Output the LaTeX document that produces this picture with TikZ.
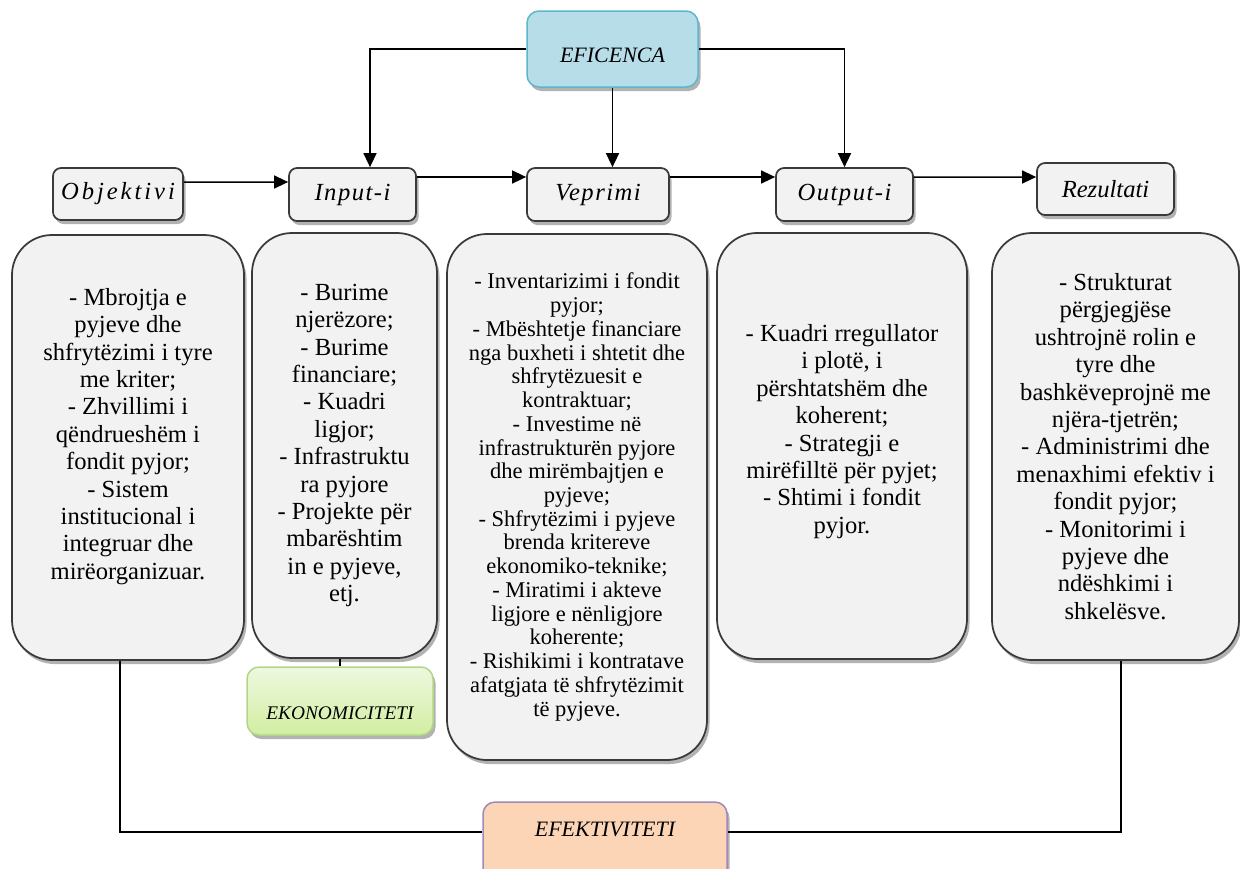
\documentclass[tikz,border=0pt]{standalone}
\usepackage{fontspec}
\setmainfont{Liberation Serif}
\usetikzlibrary{arrows.meta,shadows}
\definecolor{boxgray}{HTML}{F2F2F2}
\definecolor{boxline}{HTML}{3A3A3A}
\definecolor{eficfill}{HTML}{B7DEE8}
\definecolor{eficline}{HTML}{5DB6CE}
\definecolor{ekontop}{HTML}{EEF8DF}
\definecolor{ekonbot}{HTML}{D2EEA2}
\definecolor{ekonline}{HTML}{B3D58A}
\definecolor{efekfill}{HTML}{FBD5B5}
\definecolor{efekline}{HTML}{9E88BE}
\begin{document}
\begin{tikzpicture}[x=0.2mm, y=-0.2mm,
        shade/.style={drop shadow={shadow xshift=0.5mm, shadow yshift=-0.8mm, fill=black!55, opacity=0.55}},
        head/.style={draw=boxline, line width=0.35mm, fill=boxgray, rounded corners=1.6mm, inner sep=0pt, shade,
            font=\fontsize{14}{16}\selectfont\itshape\addfontfeature{LetterSpace=6}},
        textbox/.style={draw=boxline, line width=0.35mm, fill=boxgray, rounded corners=8mm, inner sep=0pt, shade,
            align=center, font=\fontsize{14}{15.6}\selectfont},
        key/.style={line width=0.3mm, rounded corners=2.4mm, inner sep=0pt, shade, font=\fontsize{12.5}{14}\selectfont\itshape},
        arr/.style={line width=0.3mm, -{Triangle[length=2.8mm, width=2.6mm]}},
        link/.style={line width=0.3mm},
    ]
    \useasboundingbox (0,0) rectangle (1240,868);

    \node[key, draw=eficline, fill=eficfill, minimum width=34.2mm, text height=10.2mm, text depth=5mm] (efic) at (612.5,49) {EFICENCA};

    \node[head, minimum width=26mm, minimum height=10.4mm] (obj) at (118,194) {\addfontfeature{LetterSpace=12}Objektivi};
    \node[head, minimum width=25.4mm, minimum height=10.6mm] (inp) at (352.5,194.5) {Input-i};
    \node[head, minimum width=28.4mm, minimum height=10.6mm] (vep) at (598,194.5) {Veprimi};
    \node[head, minimum width=27.4mm, minimum height=10.6mm] (out) at (844.5,194.5) {Output-i};
    \node[head, minimum width=27.4mm, minimum height=10.4mm, font=\fontsize{14}{16}\selectfont\itshape] (rez) at (1105.5,189) {Rezultati};

    \node[textbox, minimum width=46.4mm, minimum height=85mm] (tobj) at (128,447.5) {%
        - Mbrojtja e\\ pyjeve dhe\\ shfrytëzimi i tyre\\ me kriter;\\ - Zhvillimi i\\ qëndrueshëm i\\
        fondit pyjor;\\ - Sistem\\ institucional i\\ integruar dhe\\ mirëorganizuar.\\ ~};
    \node[textbox, minimum width=37mm, minimum height=85mm] (tinp) at (344.5,445.5) {%
        - Burime\\ njerëzore;\\ - Burime\\ financiare;\\ - Kuadri\\ ligjor;\\ - Infrastruktu\\ ra pyjore\\
        - Projekte për\\ mbarështim\\ in e pyjeve,\\ etj.};
    \node[textbox, minimum width=52mm, minimum height=105.2mm, font=\fontsize{12.8}{13.5}\selectfont] (tvep) at (577,497) {%
        - Inventarizimi i fondit\\ pyjor;\\ - Mbështetje financiare\\ nga buxheti i shtetit dhe\\ shfrytëzuesit e\\
        kontraktuar;\\ - Investime në\\ infrastrukturën pyjore\\ dhe mirëmbajtjen e\\ pyjeve;\\
        - Shfrytëzimi i pyjeve\\ brenda kritereve\\ ekonomiko-teknike;\\ - Miratimi i akteve\\
        ligjore e nënligjore\\ koherente;\\ - Rishikimi i kontratave\\ afatgjata të shfrytëzimit\\ të pyjeve.};
    \node[textbox, minimum width=50mm, minimum height=85.2mm] (tout) at (842,446) {%
        - Kuadri rregullator\\ i plotë, i\\ përshtatshëm dhe\\ koherent;\\ - Strategji e\\
        mirëfilltë për pyjet;\\ - Shtimi i fondit\\ pyjor.\\[4pt] ~};
    \node[textbox, minimum width=49.4mm, minimum height=85.4mm] (trez) at (1115.5,446.5) {%
        - Strukturat\\ përgjegjëse\\ ushtrojnë rolin e\\ tyre dhe\\ bashkëveprojnë me\\ njëra-tjetrën;\\
        - Administrimi dhe\\ menaxhimi efektiv i\\ fondit pyjor;\\ - Monitorimi i\\ pyjeve dhe\\
        ndëshkimi i\\ shkelësve.};

    \node[key, draw=ekonline, top color=ekontop, bottom color=ekonbot, minimum width=37.2mm, text height=10.4mm, text depth=3.2mm,
        font=\fontsize{11}{13}\selectfont\itshape] (ekon) at (340,701) {EKONOMICITETI};
    \node[key, draw=efekline, fill=efekfill, minimum width=48.8mm, text height=6.8mm, text depth=10.8mm] (efek) at (605,846) {EFEKTIVITETI};

    \draw[arr] (efic.west) -| ([xshift=3.5mm]inp.north);
    \draw[arr] (efic.south) -- (efic.south |- vep.north);
    \draw[arr] (efic.east) -| (out.north);

    \draw[arr] ([yshift=2.4mm]obj.east) -- ([yshift=2.5mm]inp.west);
    \draw[arr] ([yshift=3.5mm]inp.east) -- ([yshift=3.5mm]vep.west);
    \draw[arr] ([yshift=3.5mm]vep.east) -- ([yshift=3.5mm]out.west);
    \draw[arr] ([yshift=3.5mm]out.east) -- ([yshift=2.4mm]rez.west);

    \draw[link] (ekon.north) -- (ekon.north |- tinp.south);
    \draw[link] ([xshift=-1.6mm]tobj.south) |- (efek.mid west);
    \draw[link] ([xshift=1.1mm]trez.south) |- (efek.mid east);
\end{tikzpicture}
\end{document}
